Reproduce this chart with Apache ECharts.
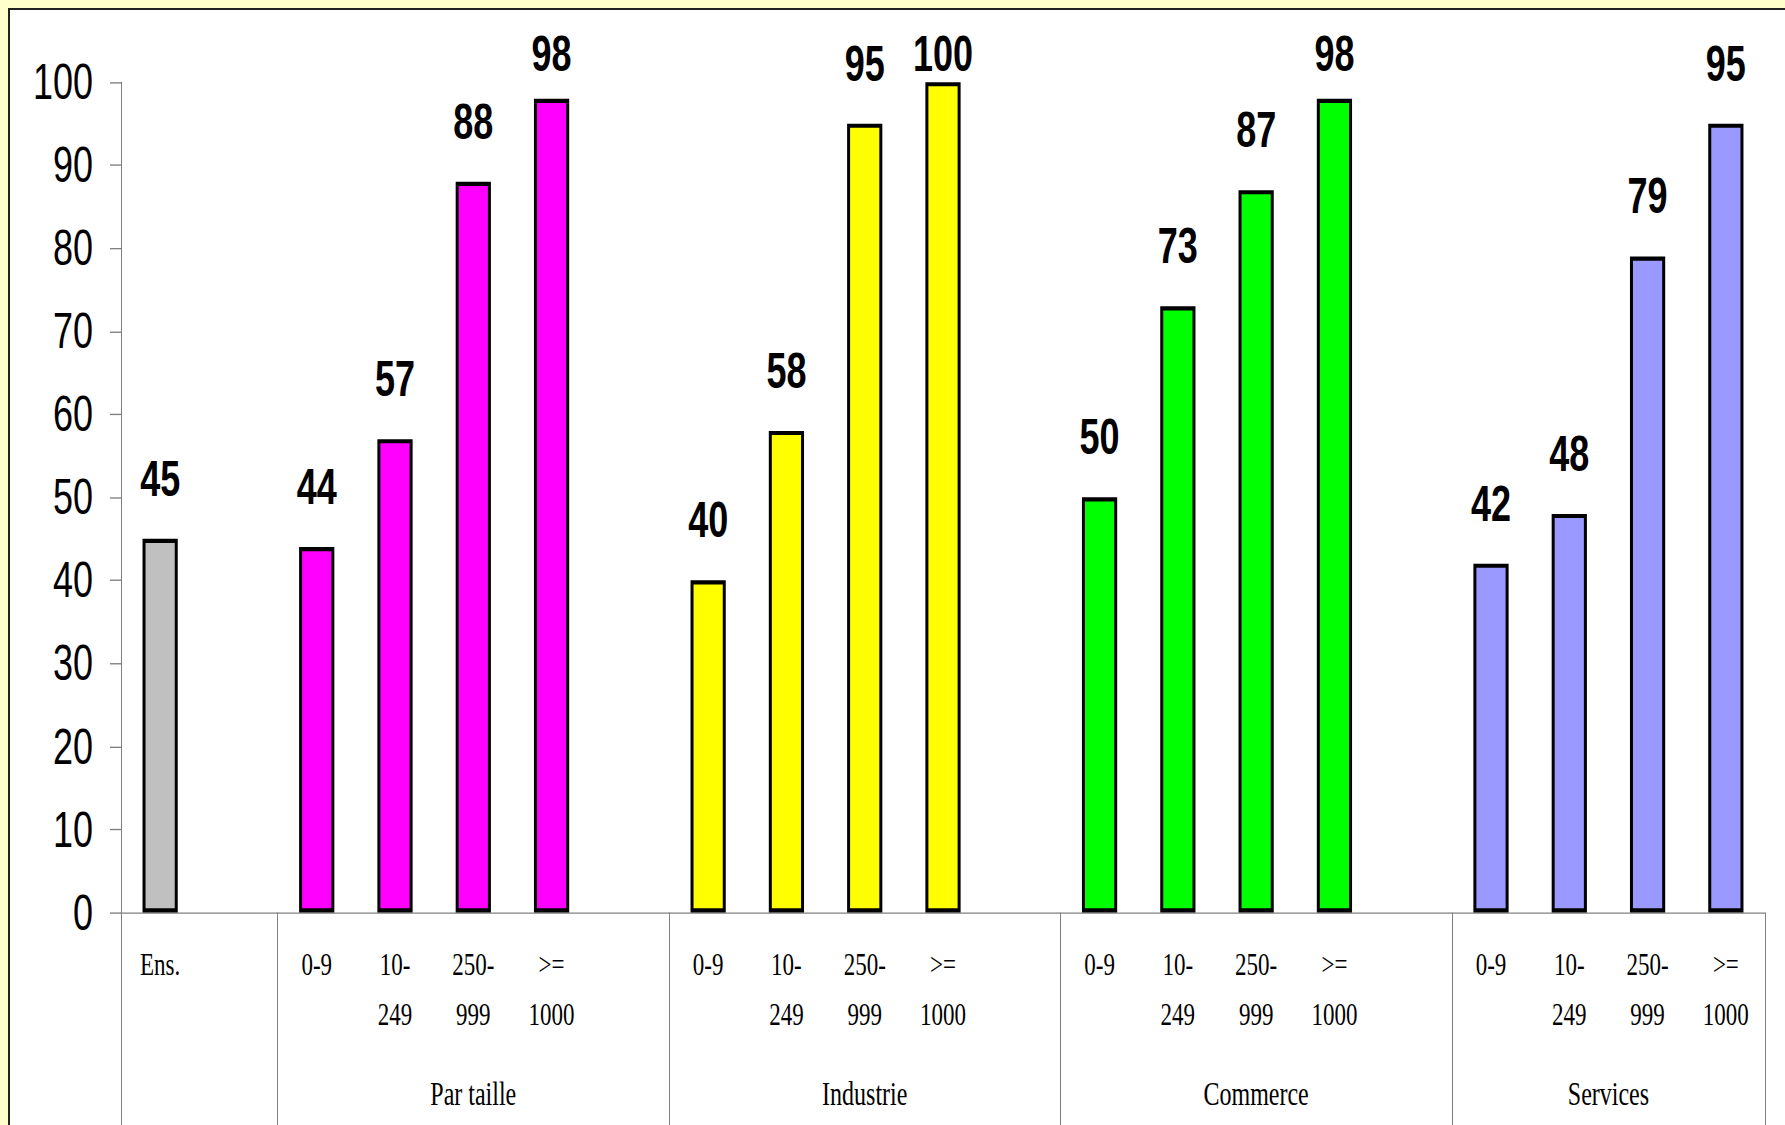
<!DOCTYPE html>
<html>
<head>
<meta charset="utf-8">
<script src="https://cdn.jsdelivr.net/npm/echarts@6/dist/echarts.min.js"></script>
<style>
  html, body { margin: 0; padding: 0; background: #ffffcc; overflow: hidden; }
  #panel { position: absolute; left: 8px; top: 8px; right: 0; bottom: 0; background: #fff;
           border-top: 2px solid #222; border-left: 2px solid #222; }
  /* le graphique d'origine est étiré verticalement */
  #main { position: absolute; left: 0; top: 0; width: 1785px; height: 822px;
          transform: scale(1, 1.37); transform-origin: 0 0; }
</style>
</head>
<body>
<div id="panel"></div>
<div id="main"></div>
<script>
// données
var ensLabel = 'Ens.';
var ensValue = 45;
var sizeLabels = ['0-9', '10-\n249', '250-\n999', '>=\n1000'];
var groupNames = ['Par taille', 'Industrie', 'Commerce', 'Services'];
var parTaille = [44, 57, 88, 98];
var industrie = [40, 58, 95, 100];
var commerce = [50, 73, 87, 98];
var services = [42, 48, 79, 95];
var yTicks = [0, 100, 10];

var groupValues = [parTaille, industrie, commerce, services];
var ensColor = '#c0c0c0';
var groupColors = ['#ff00ff', '#ffff00', '#00ff00', '#9999ff'];

// construction des catégories (avec colonnes vides entre les groupes)
var categories = [ensLabel, ''];
var barData = [{ value: ensValue, itemStyle: { color: ensColor } }, '-'];
var bounds = [0, 2];
var centers = [];
groupValues.forEach(function (vals, g) {
  var start = categories.length;
  vals.forEach(function (v, i) {
    categories.push(sizeLabels[i]);
    barData.push({ value: v, itemStyle: { color: groupColors[g] } });
  });
  if (g < groupValues.length - 1) {
    categories.push('');
    barData.push('-');
    bounds.push(categories.length);
  }
  centers.push((start + categories.length) / 2);
});

var myChart = echarts.init(document.getElementById('main'), null, { renderer: 'svg' });
var option = {
  animation: false,
  grid: { left: 121, right: 20, top: 60, bottom: 156, outerBoundsMode: 'none' },
  xAxis: [
    {
      type: 'category',
      position: 'bottom',
      data: categories,
      axisLine: { show: true, lineStyle: { color: '#808080', width: 1 } },
      axisTick: {
        show: true,
        length: 156,
        interval: function (index) { return bounds.indexOf(index) >= 0; },
        lineStyle: { color: '#808080', width: 1 }
      },
      axisLabel: {
        interval: 0,
        margin: 20,
        fontFamily: 'Liberation Serif',
        fontSize: 23,
        lineHeight: 36,
        color: '#000'
      }
    },
    {
      // libellés des groupes
      type: 'value',
      position: 'bottom',
      min: 0,
      max: categories.length,
      interval: 0.5,
      axisLine: { show: false },
      axisTick: { show: false },
      splitLine: { show: false },
      axisLabel: {
        margin: 120,
        fontFamily: 'Liberation Serif',
        fontSize: 24,
        color: '#000',
        showMinLabel: true,
        showMaxLabel: true,
        formatter: function (v) {
          var k = centers.indexOf(v);
          return k >= 0 ? groupNames[k] : '';
        }
      }
    }
  ],
  yAxis: {
    type: 'value',
    min: yTicks[0],
    max: yTicks[1],
    interval: yTicks[2],
    axisLine: { show: true, lineStyle: { color: '#808080', width: 1 } },
    axisTick: { show: true, length: 11, lineStyle: { color: '#808080' } },
    splitLine: { show: false },
    axisLabel: {
      margin: 28,
      fontFamily: 'Liberation Sans',
      fontSize: 36,
      color: '#000'
    }
  },
  series: [
    {
      type: 'bar',
      xAxisIndex: 0,
      barWidth: '45%',
      data: barData,
      itemStyle: { borderColor: '#000', borderWidth: 3 },
      label: {
        show: true,
        position: 'top',
        distance: 26,
        fontFamily: 'Liberation Sans',
        fontWeight: 'bold',
        fontSize: 36,
        color: '#000'
      },
      // les étiquettes restent dans la zone du graphique
      labelLayout: function (params) {
        var minTop = 21;
        if (params.labelRect.y < minTop) {
          return { dy: minTop - params.labelRect.y };
        }
        return {};
      }
    }
  ]
};
myChart.setOption(option);
</script>
</body>
</html>
